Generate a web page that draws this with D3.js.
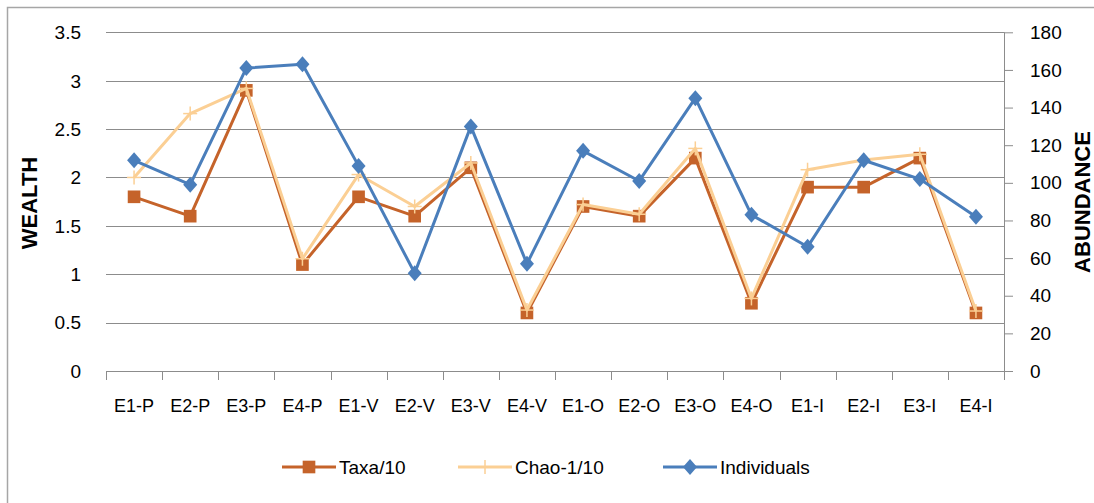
<!DOCTYPE html>
<html><head><meta charset="utf-8">
<script src="https://cdn.jsdelivr.net/npm/d3@7"></script>
<style>
html,body{margin:0;padding:0;background:#fff;overflow:hidden}
text{font-family:"Liberation Sans",Arial,sans-serif;fill:#000}
</style></head>
<body><svg id="c" width="1094" height="503"></svg>
<script>
const categories = ["E1-P","E2-P","E3-P","E4-P","E1-V","E2-V","E3-V","E4-V","E1-O","E2-O","E3-O","E4-O","E1-I","E2-I","E3-I","E4-I"];
const taxa = [1.8,1.6,2.9,1.1,1.8,1.6,2.1,0.6,1.7,1.6,2.2,0.7,1.9,1.9,2.2,0.6];
const chao = [2.0,2.66,2.92,1.16,2.03,1.7,2.15,0.63,1.72,1.62,2.3,0.75,2.08,2.18,2.24,0.62];
const individuals = [112,99,161,163,109,52,130,57,117,101,145,83,66,112,102,82];
const leftTicks = [0,0.5,1,1.5,2,2.5,3,3.5];
const rightTicks = [0,20,40,60,80,100,120,140,160,180];

const svg = d3.select("#c");
const L = 106, R = 1004, T = 32.3, B = 371;
const cOrange = "#C5632A", cPeach = "#FBCF94", cBlue = "#4A7EBB";

svg.append("rect").attr("x",7.5).attr("y",7.5).attr("width",1200).attr("height",600)
  .attr("fill","none").attr("stroke","#A6A6A6").attr("stroke-width",1.5);

const x = d3.scaleBand().domain(categories).range([L,R]);
const yL = d3.scaleLinear().domain([0,3.5]).range([B,T]);
const yR = d3.scaleLinear().domain([0,180]).range([B,T]);

svg.append("g").selectAll("line").data(leftTicks.filter(d=>d>0)).join("line")
  .attr("x1",L).attr("x2",R).attr("y1",d=>Math.round(yL(d))+0.5).attr("y2",d=>Math.round(yL(d))+0.5)
  .attr("stroke","#8C8C8C").attr("stroke-width",1);

svg.append("g").selectAll("text").data(leftTicks).join("text")
  .attr("x",81).attr("y",d=>yL(d)).attr("dy","0.36em").attr("text-anchor","end")
  .attr("font-size",19).text(d=>d);

const ra = svg.append("g").attr("transform",`translate(${R},0)`)
  .call(d3.axisRight(yR).tickValues(rightTicks).tickSize(9).tickPadding(17).tickFormat(d=>d));
ra.select(".domain").attr("stroke","#8C8C8C").attr("d",`M0.5,${T}V${B}`);
ra.selectAll(".tick line").attr("stroke","#8C8C8C");
ra.selectAll("text").attr("font-size",19).attr("font-family","Liberation Sans, Arial, sans-serif").attr("fill","#000");

const ba = svg.append("g").attr("transform",`translate(0,${Math.round(B)+0.5})`)
  .call(d3.axisBottom(x).tickSize(0).tickPadding(28));
ba.select(".domain").attr("stroke","#8C8C8C").attr("d",`M${L},0H${R}`);
ba.selectAll("text").attr("font-size",18).attr("font-family","Liberation Sans, Arial, sans-serif").attr("fill","#000");
const bounds = x.domain().map(d=>x(d)).concat([R]);
svg.append("g").selectAll("line").data(bounds).join("line")
  .attr("x1",d=>Math.round(d)+0.5).attr("x2",d=>Math.round(d)+0.5)
  .attr("y1",B).attr("y2",B+9).attr("stroke","#8C8C8C");

svg.append("text").attr("transform","translate(37,203) rotate(-90)").attr("text-anchor","middle")
  .attr("font-size",22).attr("font-weight","bold").text("WEALTH");
svg.append("text").attr("transform","translate(1090,202) rotate(-90)").attr("text-anchor","middle")
  .attr("font-size",22).attr("font-weight","bold").text("ABUNDANCE");

const cx = d => x(d) + x.bandwidth()/2;
function series(vals, y, color) {
  const line = d3.line().x((d,i)=>cx(categories[i])).y(d=>y(d));
  svg.append("path").datum(vals).attr("d",line).attr("fill","none")
    .attr("stroke",color).attr("stroke-width",3).attr("stroke-linejoin","round");
}
const sq = d3.symbol().type(d3.symbolSquare).size(160);
const diaPath = "M0,-8L7,0L0,8L-7,0Z";

series(taxa, yL, cOrange);
svg.append("g").selectAll("path").data(taxa).join("path")
  .attr("transform",(d,i)=>`translate(${cx(categories[i])},${yL(d)})`).attr("d",sq).attr("fill",cOrange);

series(chao, yL, cPeach);
svg.append("g").selectAll("g").data(chao).join("g")
  .attr("transform",(d,i)=>`translate(${cx(categories[i])},${yL(d)})`)
  .each(function(){ const g=d3.select(this);
    g.append("line").attr("x1",-7).attr("x2",7).attr("stroke",cPeach).attr("stroke-width",1.5);
    g.append("line").attr("y1",-7).attr("y2",7).attr("stroke",cPeach).attr("stroke-width",1.5);});

series(individuals, yR, cBlue);
svg.append("g").selectAll("path").data(individuals).join("path")
  .attr("transform",(d,i)=>`translate(${cx(categories[i])},${yR(d)})`).attr("d",diaPath).attr("fill",cBlue);

const legend = [
  {name:"Taxa/10", color:cOrange, x1:282, type:"sq"},
  {name:"Chao-1/10", color:cPeach, x1:458, type:"plus"},
  {name:"Individuals", color:cBlue, x1:663, type:"dia"}
];
const ly = 467;
legend.forEach(l=>{
  const g = svg.append("g");
  g.append("line").attr("x1",l.x1).attr("x2",l.x1+54).attr("y1",ly).attr("y2",ly)
    .attr("stroke",l.color).attr("stroke-width",3);
  const mx = l.x1+27;
  if (l.type==="sq") g.append("path").attr("transform",`translate(${mx},${ly})`).attr("d",sq).attr("fill",l.color);
  if (l.type==="dia") g.append("path").attr("transform",`translate(${mx},${ly})`).attr("d",diaPath).attr("fill",l.color);
  if (l.type==="plus") { g.append("line").attr("x1",mx).attr("x2",mx).attr("y1",ly-7).attr("y2",ly+7).attr("stroke",l.color).attr("stroke-width",1.5); }
  g.append("text").attr("x",l.x1+57).attr("y",ly).attr("dy","0.35em").attr("font-size",19).text(l.name);
});
</script></body></html>
